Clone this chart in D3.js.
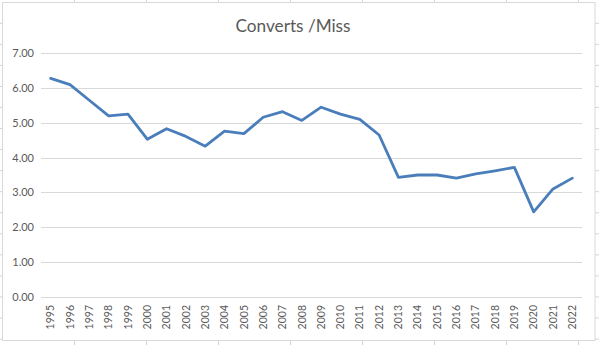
<!DOCTYPE html>
<html>
<head>
<meta charset="utf-8">
<script src="https://cdn.jsdelivr.net/npm/d3@7"></script>
<style>
  html, body { margin: 0; padding: 0; background: #fff; }
  svg { display: block; }
</style>
</head>
<body>
<svg id="chart" width="599" height="345"></svg>
<script>
const title = "Converts /Miss";
const years = ["1995","1996","1997","1998","1999","2000","2001","2002","2003","2004","2005","2006","2007","2008","2009","2010","2011","2012","2013","2014","2015","2016","2017","2018","2019","2020","2021","2022"];
const values = [6.28,6.10,5.65,5.20,5.25,4.53,4.83,4.61,4.33,4.76,4.69,5.16,5.32,5.07,5.45,5.25,5.10,4.65,3.43,3.50,3.50,3.41,3.53,3.62,3.72,2.44,3.10,3.41];
const yTicks = [0,1,2,3,4,5,6,7];

const svg = d3.select("#chart");
const W = 599, H = 345;

// spreadsheet background grid
const colLines = d3.range(74.5, W, 72);
const rowLines = d3.range(23.3, H, 21.05);
const bg = svg.append("g");
bg.selectAll("line.c").data(colLines).join("line")
  .attr("x1", d => d).attr("x2", d => d).attr("y1", 0).attr("y2", H)
  .attr("stroke", "#d4d4d4").attr("stroke-width", 1);
bg.selectAll("line.r").data(rowLines).join("line")
  .attr("x1", 0).attr("x2", W).attr("y1", d => d).attr("y2", d => d)
  .attr("stroke", "#d4d4d4").attr("stroke-width", 1);

// chart area
svg.append("rect").attr("x", 2.5).attr("y", 2.5).attr("width", 592.5).attr("height", 338)
  .attr("fill", "#fff").attr("stroke", "#d9d9d9").attr("stroke-width", 1);

const x = d3.scaleBand().domain(years).range([41, 582]);
const y = d3.scaleLinear().domain([0, 7]).range([296.7, 53.3]);

// gridlines
svg.append("g").selectAll("line").data(yTicks).join("line")
  .attr("x1", 41).attr("x2", 582)
  .attr("y1", d => Math.round(y(d)) + 0.5).attr("y2", d => Math.round(y(d)) + 0.5)
  .attr("stroke", "#d9d9d9").attr("stroke-width", 1);

// y axis labels
const yAxis = d3.axisLeft(y).tickValues(yTicks).tickFormat(d3.format(".2f")).tickSize(0).tickPadding(0);
const yg = svg.append("g").attr("transform", "translate(34,0)").call(yAxis);
yg.select(".domain").remove();
yg.selectAll("text").attr("font-family", "Lato, 'Open Sans', sans-serif").attr("font-size", "11px").attr("fill", "#595959");

// x axis labels
const xAxis = d3.axisBottom(x).tickSize(0).tickPadding(0);
const xg = svg.append("g").attr("transform", "translate(0,305)").call(xAxis);
xg.select(".domain").remove();
xg.selectAll("text")
  .attr("font-family", "Lato, 'Open Sans', sans-serif").attr("font-size", "10.5px").attr("fill", "#595959")
  .attr("transform", "rotate(-90)")
  .attr("text-anchor", "end")
  .attr("x", 0).attr("y", 0).attr("dy", "0.35em");

// line
const line = d3.line().x((d, i) => x(years[i]) + x.bandwidth() / 2).y(d => y(d));
svg.append("path").datum(values).attr("d", line)
  .attr("fill", "none").attr("stroke", "#4a7ebb").attr("stroke-width", 2.8)
  .attr("stroke-linejoin", "round").attr("stroke-linecap", "round");

// title
svg.append("text").attr("x", 293).attr("y", 32).attr("text-anchor", "middle")
  .attr("font-family", "Lato, 'Open Sans', sans-serif").attr("font-size", "17.2px").attr("fill", "#595959")
  .text(title);
</script>
</body>
</html>
